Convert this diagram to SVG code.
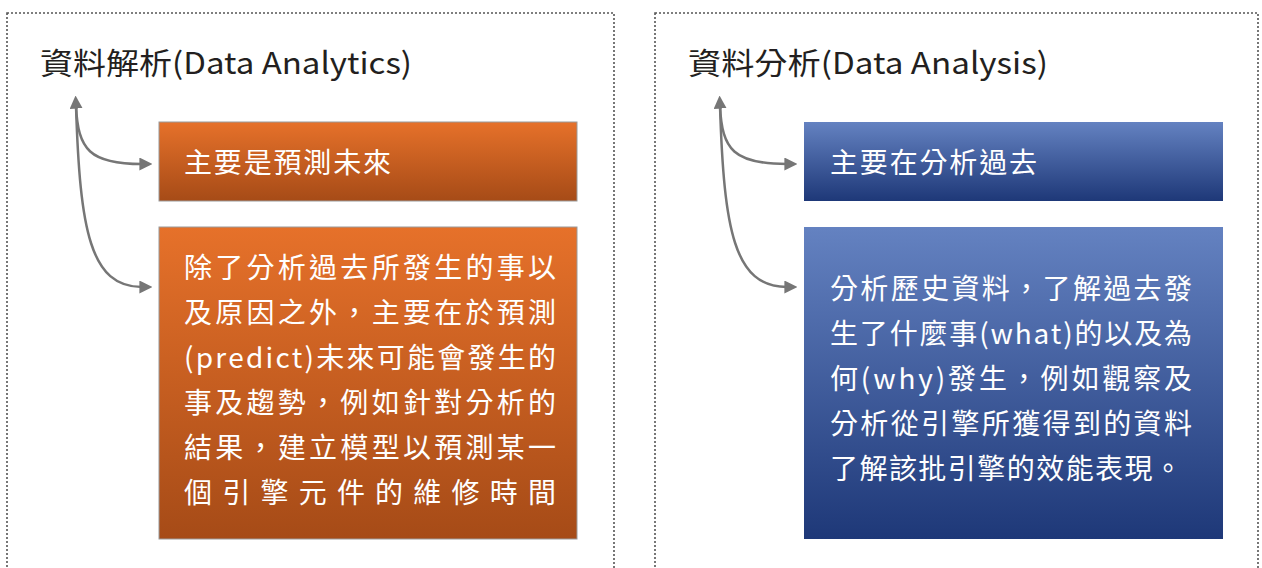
<svg xmlns="http://www.w3.org/2000/svg" width="1262" height="568" viewBox="0 0 1262 568">
<style>
.frame{fill:none;stroke:#555;stroke-width:1.6;stroke-dasharray:2 2}
.title{font-family:"Noto Sans CJK TC","Noto Sans",sans-serif;font-size:30px;fill:#231f20}
.txt{font-family:"Noto Sans CJK TC","Noto Sans",sans-serif;font-size:28px;fill:#fff}
.orange{fill:url(#og);stroke:#9a9a9a;stroke-width:1}
.blue{fill:url(#bg)}
.conn{fill:none;stroke:#767676;stroke-width:2.5}
</style>
<defs>
<linearGradient id="og" x1="0" y1="0" x2="0" y2="1"><stop offset="0" stop-color="#E6712A"/><stop offset="1" stop-color="#A64B17"/></linearGradient>
<linearGradient id="bg" x1="0" y1="0" x2="0" y2="1"><stop offset="0" stop-color="#6482C1"/><stop offset="1" stop-color="#1E3878"/></linearGradient>
<marker id="ah" viewBox="0 0 10 10" refX="2" refY="5" markerUnits="userSpaceOnUse" markerWidth="13" markerHeight="13" orient="auto-start-reverse"><path d="M0,0 L10,5 L0,10 z" fill="#767676"/></marker>
</defs>
<rect class="frame" x="7" y="13" width="607" height="570"/>
<rect class="frame" x="655" y="13" width="603" height="570"/>
<g id="title-left"><text class="title" x="40" y="74" textLength="372" lengthAdjust="spacingAndGlyphs">資料解析(Data Analytics)</text></g>
<g id="title-right"><text class="title" x="688" y="74" textLength="360" lengthAdjust="spacingAndGlyphs">資料分析(Data Analysis)</text></g>
<g id="connectors">
<path class="conn" d="M76,106 C78,150 90,164 142,164" marker-start="url(#ah)" marker-end="url(#ah)"/>
<path class="conn" d="M76,106 C80,230 90,287 142,287" marker-end="url(#ah)"/>
<path class="conn" d="M720,106 C722,150 734,164 787,164" marker-start="url(#ah)" marker-end="url(#ah)"/>
<path class="conn" d="M720,106 C724,230 734,287 787,287" marker-end="url(#ah)"/>
</g>
<g id="node-predict">
<rect class="orange" x="159" y="122" width="418" height="79"/>
<text class="txt" x="184" y="173" textLength="207" lengthAdjust="spacing">主要是預測未來</text>
</g>
<g id="node-predict-detail">
<rect class="orange" x="159" y="227" width="418" height="312"/>
<text class="txt" x="184" y="278" textLength="372" lengthAdjust="spacing">除了分析過去所發生的事以</text>
<text class="txt" x="184" y="323" textLength="372" lengthAdjust="spacing">及原因之外，主要在於預測</text>
<text class="txt" x="184" y="368" textLength="372" lengthAdjust="spacing">(predict)未來可能會發生的</text>
<text class="txt" x="184" y="413" textLength="372" lengthAdjust="spacing">事及趨勢，例如針對分析的</text>
<text class="txt" x="184" y="458" textLength="372" lengthAdjust="spacing">結果，建立模型以預測某一</text>
<text class="txt" x="184" y="503" textLength="372" lengthAdjust="spacing">個引擎元件的維修時間</text>
</g>
<g id="node-past">
<rect class="blue" x="804" y="122" width="419" height="79"/>
<text class="txt" x="830" y="173" textLength="207" lengthAdjust="spacing">主要在分析過去</text>
</g>
<g id="node-past-detail">
<rect class="blue" x="804" y="227" width="419" height="312"/>
<text class="txt" x="830" y="299" textLength="362" lengthAdjust="spacing">分析歷史資料，了解過去發</text>
<text class="txt" x="830" y="344" textLength="362" lengthAdjust="spacing">生了什麼事(what)的以及為</text>
<text class="txt" x="830" y="389" textLength="362" lengthAdjust="spacing">何(why)發生，例如觀察及</text>
<text class="txt" x="830" y="434" textLength="362" lengthAdjust="spacing">分析從引擎所獲得到的資料</text>
<text class="txt" x="830" y="479" textLength="352" lengthAdjust="spacing">了解該批引擎的效能表現。</text>
</g>
</svg>
